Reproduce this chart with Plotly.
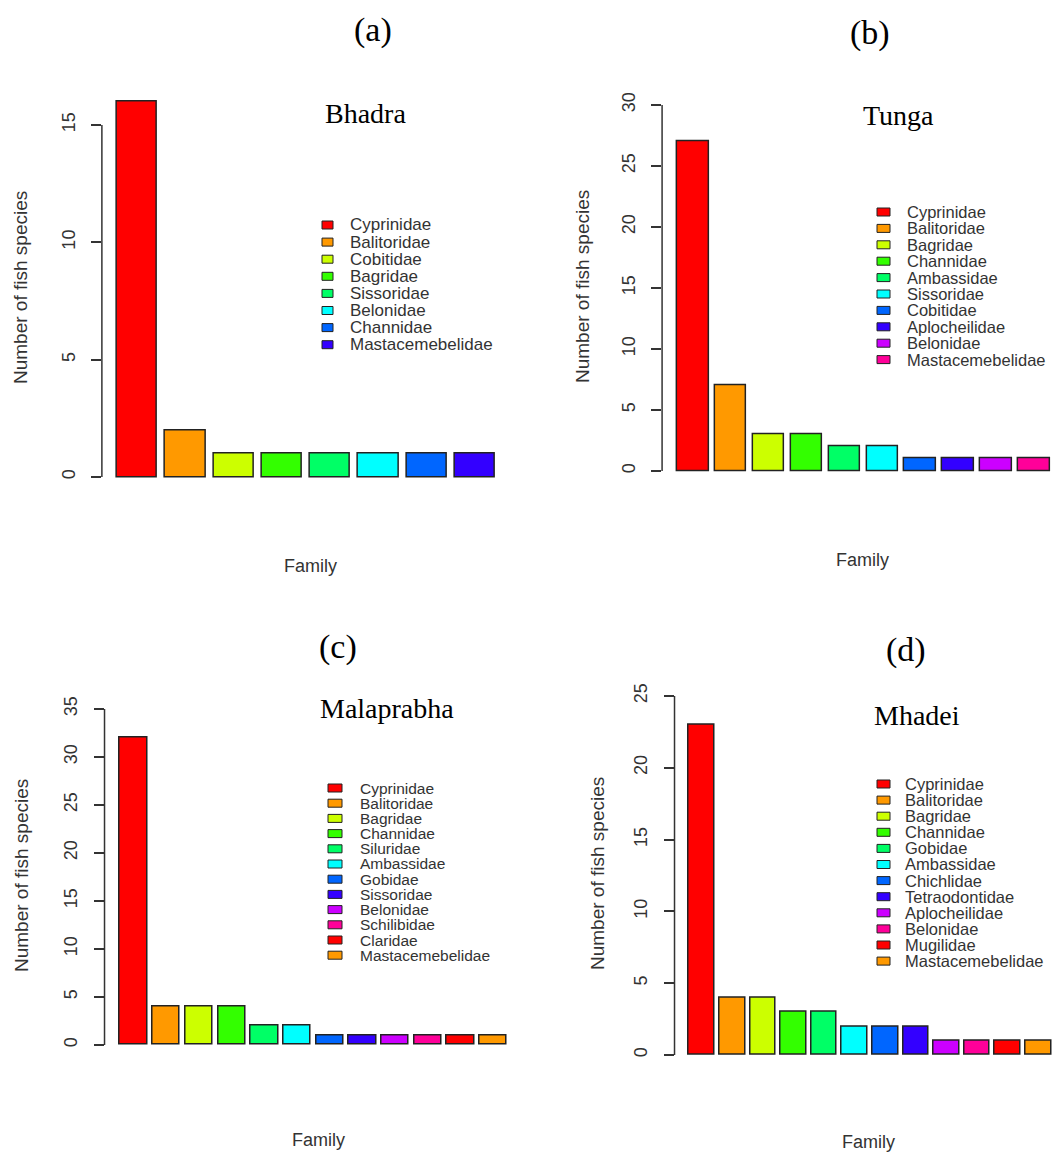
import plotly.graph_objects as go

W, H = 1056, 1153

# ---------------- data ----------------
panel_letters = ["(a)", "(b)", "(c)", "(d)"]
rivers = ["Bhadra", "Tunga", "Malaprabha", "Mhadei"]

fam_a = ["Cyprinidae", "Balitoridae", "Cobitidae", "Bagridae", "Sissoridae",
         "Belonidae", "Channidae", "Mastacemebelidae"]
cnt_a = [16, 2, 1, 1, 1, 1, 1, 1]

fam_b = ["Cyprinidae", "Balitoridae", "Bagridae", "Channidae", "Ambassidae",
         "Sissoridae", "Cobitidae", "Aplocheilidae", "Belonidae", "Mastacemebelidae"]
cnt_b = [27, 7, 3, 3, 2, 2, 1, 1, 1, 1]

fam_c = ["Cyprinidae", "Balitoridae", "Bagridae", "Channidae", "Siluridae",
         "Ambassidae", "Gobidae", "Sissoridae", "Belonidae", "Schilibidae",
         "Claridae", "Mastacemebelidae"]
cnt_c = [32, 4, 4, 4, 2, 2, 1, 1, 1, 1, 1, 1]

fam_d = ["Cyprinidae", "Balitoridae", "Bagridae", "Channidae", "Gobidae",
         "Ambassidae", "Chichlidae", "Tetraodontidae", "Aplocheilidae",
         "Belonidae", "Mugilidae", "Mastacemebelidae"]
cnt_d = [23, 4, 4, 3, 3, 2, 2, 2, 1, 1, 1, 1]

ticks_a = [0, 5, 10, 15]
ticks_b = [0, 5, 10, 15, 20, 25, 30]
ticks_c = [0, 5, 10, 15, 20, 25, 30, 35]
ticks_d = [0, 5, 10, 15, 20, 25]

ylim_top = [16, 30, 35, 25]

y_title = "Number of fish species"
x_title = "Family"

# R rainbow(10) palette, recycled
palette = ["#FF0000", "#FF9900", "#CCFF00", "#33FF00", "#00FF66",
           "#00FFFF", "#0066FF", "#3300FF", "#CC00FF", "#FF0099"]

families = [fam_a, fam_b, fam_c, fam_d]
counts = [cnt_a, cnt_b, cnt_c, cnt_d]
ticks = [ticks_a, ticks_b, ticks_c, ticks_d]

# ---------------- layout geometry (pixels) ----------------
geo = [
    dict(bl=117, sx=40.2, y0=477, sy=23.47,
         letter=(373, 30), river=(365, 113), ylab=(20, 288), xlab=(310, 566),
         sq=(322, 333), txt=348, row0=225, dy=17.1, lfs=17),
    dict(bl=677, sx=31.6, y0=471, sy=12.2,
         letter=(870, 33), river=(898, 115), ylab=(582, 287), xlab=(862, 560),
         sq=(877, 890), txt=905, row0=212, dy=16.4, lfs=16.5),
    dict(bl=120, sx=27.25, y0=1045, sy=9.6,
         letter=(338, 647), river=(387, 708), ylab=(21, 876), xlab=(318, 1140),
         sq=(328, 342), txt=358, row0=788, dy=15.2, lfs=15.5),
    dict(bl=689, sx=25.5, y0=1055, sy=14.36,
         letter=(906, 650), river=(917, 715), ylab=(597, 874), xlab=(868, 1142),
         sq=(877, 890), txt=903, row0=784, dy=16.1, lfs=16.5),
]

SANS = "Liberation Sans, Arial, sans-serif"
SERIF = "Liberation Serif, Times New Roman, serif"
INK = "#333333"


def px(x):
    return x / W


def py(y):
    return 1 - y / H


fig = go.Figure()
layout = dict(width=W, height=H, margin=dict(l=0, r=0, t=0, b=0),
              paper_bgcolor="white", plot_bgcolor="white", showlegend=False,
              bargap=0)
annotations = []
shapes = []

for k in range(4):
    g = geo[k]
    fams, vals, tv = families[k], counts[k], ticks[k]
    n = len(vals)
    cols = [palette[i % len(palette)] for i in range(n)]
    xs = [0.7 + 1.2 * i for i in range(n)]

    span = 1.2 * n - 0.2
    lo, hi = 0.2 - 0.04 * span, 1.2 * n + 0.04 * span
    px_lo = g["bl"] + (lo - 0.2) * g["sx"]
    px_hi = g["bl"] + (hi - 0.2) * g["sx"]
    if px_hi > W:
        px_hi = W
        hi = 0.2 + (W - g["bl"]) / g["sx"]
    T = ylim_top[k]
    ylo, yhi = -0.04 * T, 1.04 * T
    py_bot = g["y0"] - ylo * g["sy"]
    py_top = g["y0"] - yhi * g["sy"]

    sfx = "" if k == 0 else str(k + 1)
    fig.add_trace(go.Bar(
        x=xs, y=vals, width=[1.0] * n, text=fams, hoverinfo="text+y",
        textposition="none",
        marker=dict(color=cols, line=dict(color="#222222", width=1.5)),
        xaxis="x" + sfx, yaxis="y" + sfx, name=rivers[k]))

    layout["xaxis" + sfx] = dict(
        domain=[px(px_lo), px(px_hi)], range=[lo, hi], anchor="y" + sfx,
        showgrid=False, zeroline=False, showline=False, showticklabels=False,
        ticks="")
    layout["yaxis" + sfx] = dict(
        domain=[py(py_bot), py(py_top)], range=[ylo, yhi], anchor="x" + sfx,
        showgrid=False, zeroline=False, showline=False,
        tickmode="array", tickvals=tv, ticktext=[str(t) for t in tv],
        ticks="outside", ticklen=10, tickwidth=1.5, tickcolor=INK,
        tickangle=-90, ticklabelstandoff=9,
        tickfont=dict(family=SANS, size=18, color=INK))

    # R-style axis line spanning first..last tick
    shapes.append(dict(type="line", xref="x" + sfx + " domain", yref="y" + sfx,
                       x0=0, x1=0, y0=tv[0], y1=tv[-1],
                       line=dict(color=INK, width=1.5)))

    # panel letter
    annotations.append(dict(text=panel_letters[k], x=px(g["letter"][0]),
                            y=py(g["letter"][1]), xref="paper", yref="paper",
                            xanchor="center", yanchor="middle", showarrow=False,
                            font=dict(family=SERIF, size=34, color="black")))
    # river title
    annotations.append(dict(text=rivers[k], x=px(g["river"][0]),
                            y=py(g["river"][1]), xref="paper", yref="paper",
                            xanchor="center", yanchor="middle", showarrow=False,
                            font=dict(family=SERIF, size=28, color="black")))
    # y title
    annotations.append(dict(text=y_title, x=px(g["ylab"][0]), y=py(g["ylab"][1]),
                            xref="paper", yref="paper", textangle=-90,
                            xanchor="center", yanchor="middle", showarrow=False,
                            font=dict(family=SANS, size=19, color=INK)))
    # x title
    annotations.append(dict(text=x_title, x=px(g["xlab"][0]), y=py(g["xlab"][1]),
                            xref="paper", yref="paper",
                            xanchor="center", yanchor="middle", showarrow=False,
                            font=dict(family=SANS, size=18, color=INK)))
    # legend
    for i, (name, col) in enumerate(zip(fams, cols)):
        ry = g["row0"] + g["dy"] * i
        shapes.append(dict(type="rect", xref="paper", yref="paper",
                           x0=px(g["sq"][0]), x1=px(g["sq"][1]),
                           y0=py(ry + 4), y1=py(ry - 4), fillcolor=col,
                           line=dict(color="#222222", width=1)))
        annotations.append(dict(text=name, x=px(g["txt"]), y=py(ry),
                                xref="paper", yref="paper", xanchor="left",
                                yanchor="middle", showarrow=False,
                                font=dict(family=SANS, size=g["lfs"], color=INK)))

layout["annotations"] = annotations
layout["shapes"] = shapes
fig.update_layout(**layout)
fig.write_html("out.html")
